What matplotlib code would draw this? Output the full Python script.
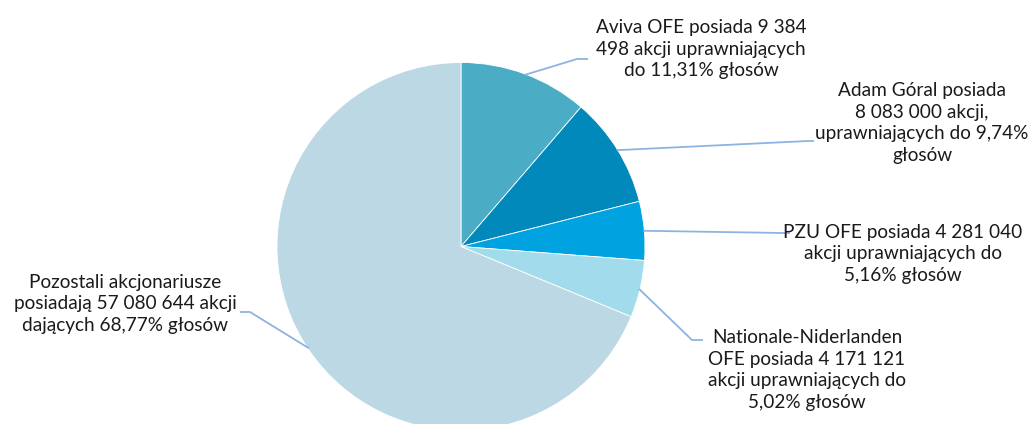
import numpy as np
from matplotlib import pyplot as plt

# shares of votes (%)
names = ['Aviva OFE', 'Adam Góral', 'PZU OFE', 'Nationale-Niderlanden OFE', 'Pozostali']
shares = [11.31, 9.74, 5.16, 5.02, 68.77]
labels = ['Aviva OFE posiada 9 384\n498 akcji uprawniających\ndo 11,31% głosów',
          'Adam Góral posiada\n8 083 000 akcji,\nuprawniających do 9,74%\ngłosów',
          'PZU OFE posiada 4 281 040\nakcji uprawniających do\n5,16% głosów',
          'Nationale-Niderlanden\nOFE posiada 4 171 121\nakcji uprawniających do\n5,02% głosów',
          'Pozostali akcjonariusze\nposiadają 57 080 644 akcji\ndających 68,77% głosów']
colors = ['#4BACC6', '#0089BA', '#00A3E0', '#A2DCEC', '#BCD8E4']

W, H = 1035, 424
fig = plt.figure(figsize=(W / 100, H / 100), dpi=100)
ax = fig.add_axes([0, 0, 1, 1])

cx, cy, r = 461, H - 246.5, 184
ax.pie(shares, colors=colors, startangle=90, counterclock=False,
       center=(cx, cy), radius=r, wedgeprops={'linewidth': 0.6, 'edgecolor': 'white'},
       frame=True)
ax.set_xlim(0, W)
ax.set_ylim(0, H)
ax.axis('off')

# label placement (pixel coords from top-left): text centre, elbow, line end
text_pos = [(701, 49), (922, 123), (903, 254), (807, 370), (125, 304)]
elbows = [(577, 59), (808, 141), (783, 233), (692, 340), (250, 312)]
ends = [(588, 59), (814, 141), (790, 233), (703, 340), (240, 312)]

cum = np.cumsum([0] + shares)
for i, lab in enumerate(labels):
    mid = np.deg2rad(90 - (cum[i] + shares[i] / 2) * 3.6)
    ax_ = cx + (r - 1) * np.cos(mid)
    ay_ = cy + (r - 1) * np.sin(mid)
    xs = [ax_, elbows[i][0], ends[i][0]]
    ys = [ay_, H - elbows[i][1], H - ends[i][1]]
    ax.plot(xs, ys, color='#8DB3E2', lw=1.3, solid_capstyle='butt', zorder=3)
    ax.text(text_pos[i][0], H - text_pos[i][1], lab, ha='center', va='center',
            fontsize=13.7, family='Lato', linespacing=1.33, color='#1a1a1a', zorder=4)

fig.savefig('out.png', dpi=100)
